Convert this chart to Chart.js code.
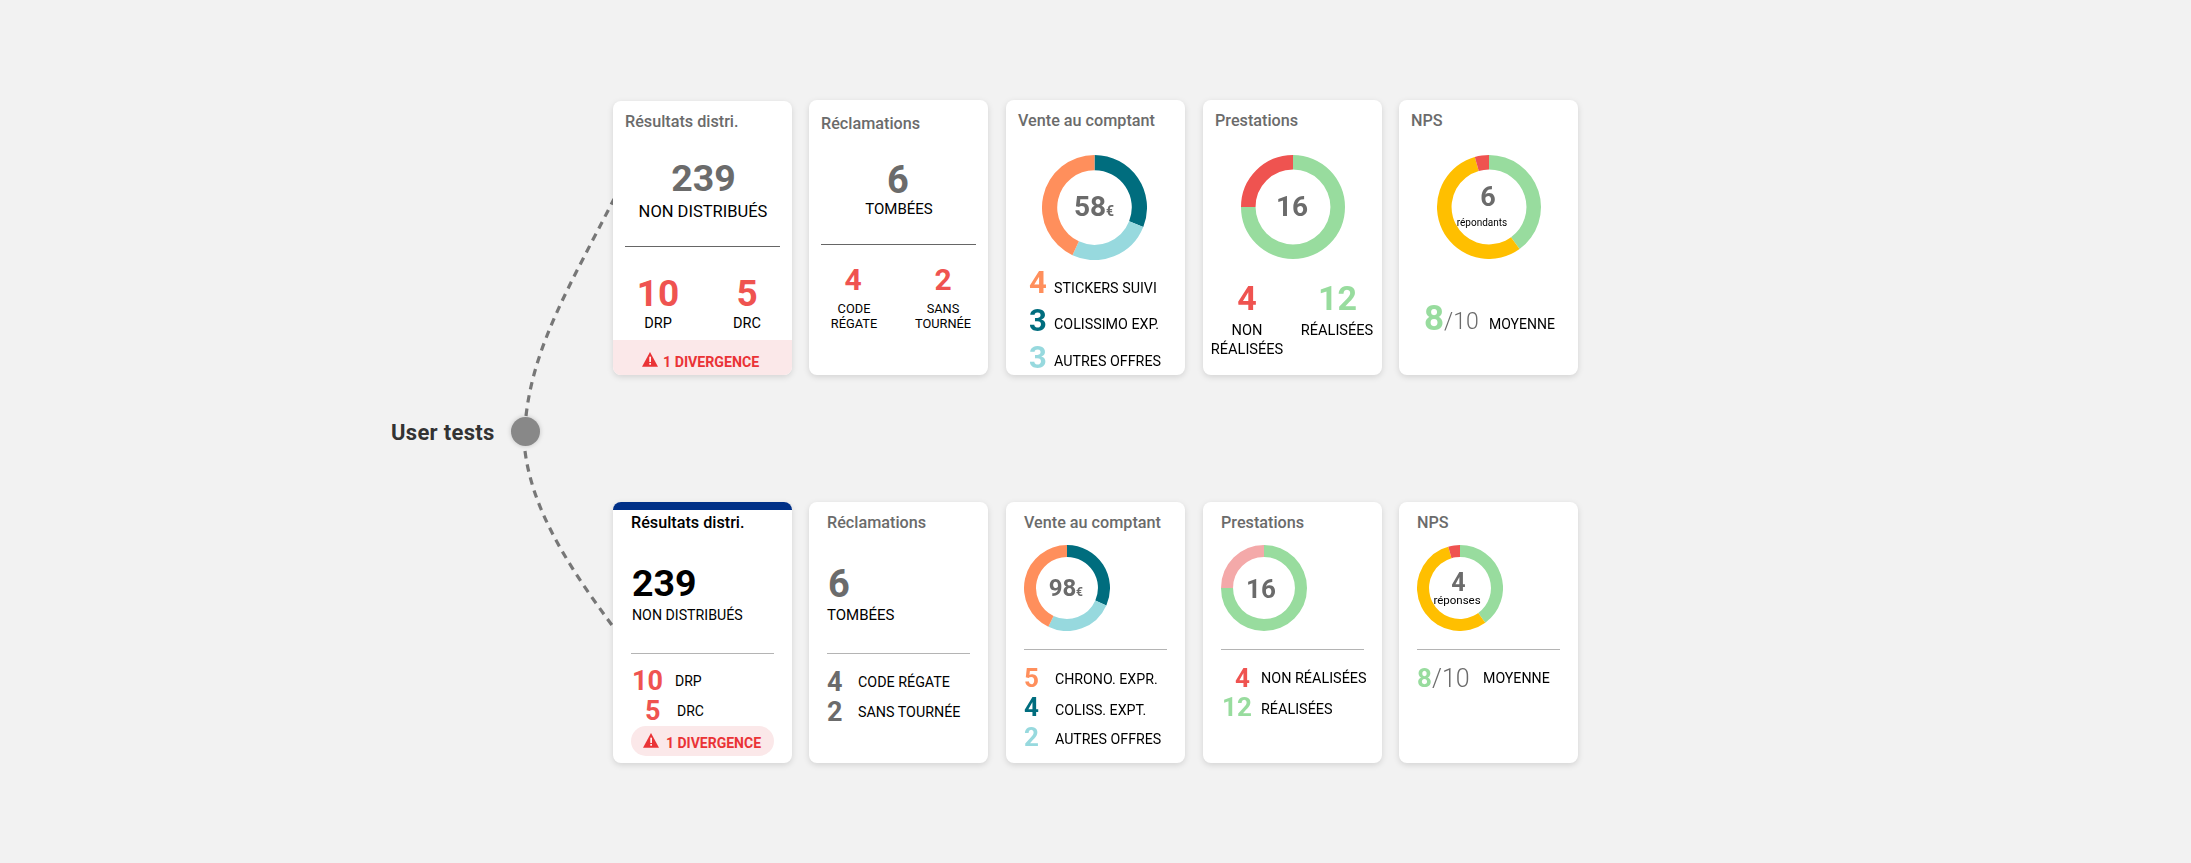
<!DOCTYPE html>
<html>
<head>
<meta charset="utf-8">
<title>User tests</title>
<script src="https://cdn.jsdelivr.net/npm/chart.js@4"></script>
<style>
  html, body { margin: 0; padding: 0; width: 2191px; height: 863px; overflow: hidden; background: #f2f2f2; font-family: Roboto, sans-serif; }
  #page { position: relative; width: 2191px; height: 863px; }
  .card { position: absolute; background: #fff; border-radius: 8px; box-shadow: 0 2px 6px rgba(0,0,0,.13); overflow: hidden; }
  .txt { position: absolute; white-space: nowrap; line-height: 1; }
  .rule { position: absolute; height: 1px; }
  .ring { position: absolute; }
  svg { position: absolute; left: 0; top: 0; }
</style>
</head>
<body>
<div id="page">
  <svg width="2191" height="863">
    <path d="M526 416 C534 345 570 285 614 199" fill="none" stroke="#777" stroke-width="3.2" stroke-dasharray="7.5 6"/>
    <path d="M525 451 C533 515 575 575 614 628" fill="none" stroke="#777" stroke-width="3.2" stroke-dasharray="7.5 6"/>
  </svg>
</div>
<script>
// chart values
var venteColors = ['#006D7E', '#97D9DE', '#FF8F5C'];
var venteTop = [18, 15, 25];
var venteBottom = [31, 25, 42];
var prestationsValues = [12, 4];
var npsValues = [40, 55.6, 4.4];
var npsColors = ['#98DC9E', '#FFBF00', '#EF5350'];

// labels
var cardTitles = ['Résultats distri.', 'Réclamations', 'Vente au comptant', 'Prestations', 'NPS'];
var venteLabelsTop = ['STICKERS SUIVI', 'COLISSIMO EXP.', 'AUTRES OFFRES'];
var venteCountsTop = [4, 3, 3];
var venteLabelsBottom = ['CHRONO. EXPR.', 'COLISS. EXPT.', 'AUTRES OFFRES'];
var venteCountsBottom = [5, 4, 2];

var GREY = '#6b6b6b', BLACK = '#000', RED = '#EF5350', GREEN = '#98DC9E', ALERT = '#EA3336';
var LIST_COLORS = ['#FF8F5C', '#006D7E', '#97D9DE'];
var TITLE_SIZE = 16.2;
var page = document.getElementById('page');

function card(x, y, w, h) {
    var d = document.createElement('div');
    d.className = 'card';
    d.style.cssText = 'left:' + x + 'px;top:' + y + 'px;width:' + w + 'px;height:' + h + 'px';
    page.appendChild(d);
    return d;
}

// align: 'l' = x is left edge, 'c' = x is centre
function put(text, x, y, size, weight, color, align) {
    var d = document.createElement('div');
    d.className = 'txt';
    d.textContent = text;
    var tx = align === 'c' ? '-50%' : '0';
    d.style.cssText = 'left:' + x + 'px;top:' + (y + 0.5) + 'px;font-size:' + size + 'px;font-weight:' + weight +
        ';color:' + color + ';transform:translate(' + tx + ',-50%)';
    page.appendChild(d);
    return d;
}

function rule(x1, x2, y, color) {
    var d = document.createElement('div');
    d.className = 'rule';
    d.style.cssText = 'left:' + x1 + 'px;top:' + y + 'px;width:' + (x2 - x1) + 'px;background:' + color;
    page.appendChild(d);
}

function warning(x, y, size) {
    var s = document.createElementNS('http://www.w3.org/2000/svg', 'svg');
    s.setAttribute('viewBox', '0 0 24 22');
    s.setAttribute('width', size);
    s.setAttribute('height', size * 22 / 24);
    s.style.cssText = 'left:' + x + 'px;top:' + y + 'px';
    s.innerHTML = '<path d="M12 0L24 22H0Z" fill="' + ALERT + '"/><rect x="11" y="7" width="2.4" height="8" fill="#fff"/><rect x="11" y="16.5" width="2.4" height="2.6" fill="#fff"/>';
    page.appendChild(s);
}

function ring(cx, cy, r, cutout, values, colors) {
    var box = document.createElement('div');
    box.className = 'ring';
    box.style.cssText = 'left:' + (cx - r) + 'px;top:' + (cy - r) + 'px;width:' + (2 * r) + 'px;height:' + (2 * r) + 'px';
    var canvas = document.createElement('canvas');
    box.appendChild(canvas);
    page.appendChild(box);
    new Chart(canvas, {
        type: 'doughnut',
        data: { datasets: [{ data: values, backgroundColor: colors, borderWidth: 0 }] },
        options: {
            responsive: true,
            maintainAspectRatio: false,
            animation: false,
            cutout: cutout,
            events: [],
            plugins: { legend: { display: false }, tooltip: { enabled: false } }
        }
    });
}

// ---- top row
var TOP_Y = 100, TOP_H = 275;
card(613, 101, 179, 274);
card(809, TOP_Y, 179, TOP_H);
card(1006, TOP_Y, 179, TOP_H);
card(1203, TOP_Y, 179, TOP_H);
card(1399, TOP_Y, 179, TOP_H);

// bandeau divergence
var strip = document.createElement('div');
strip.style.cssText = 'position:absolute;left:613px;top:340px;width:179px;height:35px;background:#FBE8E9;border-radius:0 0 8px 8px';
page.appendChild(strip);

put(cardTitles[0], 625, 121.5, TITLE_SIZE, 500, GREY);
put('239', 703.5, 178, 37.5, 700, GREY, 'c');
put('NON DISTRIBUÉS', 703, 211.5, 16.5, 400, BLACK, 'c');
rule(625, 780, 246, '#666');
put('10', 658, 292, 37, 700, RED, 'c');
put('5', 747, 292, 37, 700, RED, 'c');
put('DRP', 658, 323, 14.5, 400, BLACK, 'c');
put('DRC', 747, 323, 14.5, 400, BLACK, 'c');
warning(642, 352, 16);
put('1 DIVERGENCE', 663, 361, 14.2, 700, ALERT);

put(cardTitles[1], 821, 123, TITLE_SIZE, 500, GREY);
put('6', 898, 179, 38, 700, GREY, 'c');
put('TOMBÉES', 899, 208, 15, 400, BLACK, 'c');
rule(821, 976, 244, '#666');
put('4', 853, 279, 30, 700, RED, 'c');
put('2', 943, 279, 30, 700, RED, 'c');
put('CODE', 854, 308, 12.8, 400, BLACK, 'c');
put('RÉGATE', 854, 323, 12.8, 400, BLACK, 'c');
put('SANS', 943, 308, 12.8, 400, BLACK, 'c');
put('TOURNÉE', 943, 323, 12.8, 400, BLACK, 'c');

put(cardTitles[2], 1018, 120.5, TITLE_SIZE, 500, GREY);
ring(1094.5, 207, 52.5, '71%', venteTop, venteColors);
put('58', 1090, 206, 28, 700, GREY, 'c');
put('€', 1106, 210, 14, 700, GREY);
var topCountY = [281.5, 319, 356], topLabelY = [287, 323, 360];
venteCountsTop.forEach(function(n, i) {
    put(n, 1029, topCountY[i], 31, 700, LIST_COLORS[i]);
    put(venteLabelsTop[i], 1054, topLabelY[i], 14.3, 400, BLACK);
});

put(cardTitles[3], 1215, 120.5, TITLE_SIZE, 500, GREY);
ring(1293, 207, 52, '72%', prestationsValues, [GREEN, RED]);
put('16', 1292, 206, 28, 700, GREY, 'c');
put(prestationsValues[1], 1247, 297, 34, 700, RED, 'c');
put(prestationsValues[0], 1337.5, 297, 34, 700, GREEN, 'c');
put('NON', 1247, 329, 14.6, 400, BLACK, 'c');
put('RÉALISÉES', 1247, 348, 14.6, 400, BLACK, 'c');
put('RÉALISÉES', 1337, 329, 14.6, 400, BLACK, 'c');

put(cardTitles[4], 1411, 120.5, TITLE_SIZE, 500, GREY);
ring(1489, 207, 52, '72%', npsValues, npsColors);
put('6', 1488, 196.5, 27, 700, GREY, 'c');
put('répondants', 1482, 222, 10, 400, BLACK, 'c');
put('8', 1424, 317, 35, 700, GREEN);
put('/10', 1444, 320, 23, 300, GREY);
put('MOYENNE', 1489, 323, 14, 400, BLACK);

// ---- bottom row
var BOT_Y = 502, BOT_H = 261;
var c1 = card(613, BOT_Y, 179, BOT_H);
c1.innerHTML = '<div style="height:8px;background:#003087"></div>';
card(809, BOT_Y, 179, BOT_H);
card(1006, BOT_Y, 179, BOT_H);
card(1203, BOT_Y, 179, BOT_H);
card(1399, BOT_Y, 179, BOT_H);

put(cardTitles[0], 631, 522, TITLE_SIZE, 500, BLACK);
put('239', 632, 583, 37.5, 700, BLACK);
put('NON DISTRIBUÉS', 632, 614, 14.2, 400, BLACK);
rule(631, 774, 653, '#b4b4b4');
put('10', 632, 680, 27, 700, RED);
put('DRP', 675, 680, 14, 400, BLACK);
put('5', 645, 710, 27, 700, RED);
put('DRC', 677, 710, 14, 400, BLACK);
var pill = document.createElement('div');
pill.style.cssText = 'position:absolute;left:631px;top:726px;width:143px;height:30px;background:#FBE8E9;border-radius:15px';
page.appendChild(pill);
warning(643, 733, 16);
put('1 DIVERGENCE', 666, 742, 14, 700, ALERT);

put(cardTitles[1], 827, 522, TITLE_SIZE, 500, GREY);
put('6', 828, 583, 38, 700, GREY);
put('TOMBÉES', 827, 614, 15, 400, BLACK);
rule(827, 970, 653, '#b4b4b4');
put('4', 827, 681, 27, 700, GREY);
put('CODE RÉGATE', 858, 681, 14.3, 400, BLACK);
put('2', 827, 711, 27, 700, GREY);
put('SANS TOURNÉE', 858, 711, 14.3, 400, BLACK);

put(cardTitles[2], 1024, 522, TITLE_SIZE, 500, GREY);
ring(1067, 588, 43, '72%', venteBottom, venteColors);
put('98', 1062.5, 587, 24, 700, GREY, 'c');
put('€', 1076, 591, 12, 700, GREY);
rule(1024, 1167, 649, '#b4b4b4');
var botCountY = [677, 706, 736], botLabelY = [678, 709, 738];
venteCountsBottom.forEach(function(n, i) {
    put(n, 1024, botCountY[i], 26, 700, LIST_COLORS[i]);
    put(venteLabelsBottom[i], 1055, botLabelY[i], 14.2, 400, BLACK);
});

put(cardTitles[3], 1221, 522, TITLE_SIZE, 500, GREY);
ring(1264, 588, 43, '72%', prestationsValues, [GREEN, '#F4A9A9']);
put('16', 1261, 588, 26, 700, GREY, 'c');
rule(1221, 1364, 649, '#b4b4b4');
put(prestationsValues[1], 1235, 677, 26, 700, RED);
put('NON RÉALISÉES', 1261, 678, 14.4, 400, BLACK);
put(prestationsValues[0], 1222, 706, 26, 700, GREEN);
put('RÉALISÉES', 1261, 709, 14.4, 400, BLACK);

put(cardTitles[4], 1417, 522, TITLE_SIZE, 500, GREY);
ring(1460, 588, 43, '72%', npsValues, npsColors);
put('4', 1458.5, 581, 25, 700, GREY, 'c');
put('réponses', 1457, 600, 11.5, 400, BLACK, 'c');
rule(1417, 1560, 649, '#b4b4b4');
put('8', 1417, 677, 26, 700, GREEN);
put('/10', 1432, 677, 25, 300, GREY);
put('MOYENNE', 1483, 677, 14.2, 400, BLACK);

// ---- noeud + libellé
var node = document.createElement('div');
node.style.cssText = 'position:absolute;left:511px;top:417px;width:29px;height:29px;border-radius:50%;background:#888;box-shadow:0 0 5px rgba(0,0,0,.2)';
page.appendChild(node);
var lbl = put('User tests', 391, 432, 22, 700, '#333');
lbl.style.letterSpacing = '0.3px';
</script>
</body>
</html>
